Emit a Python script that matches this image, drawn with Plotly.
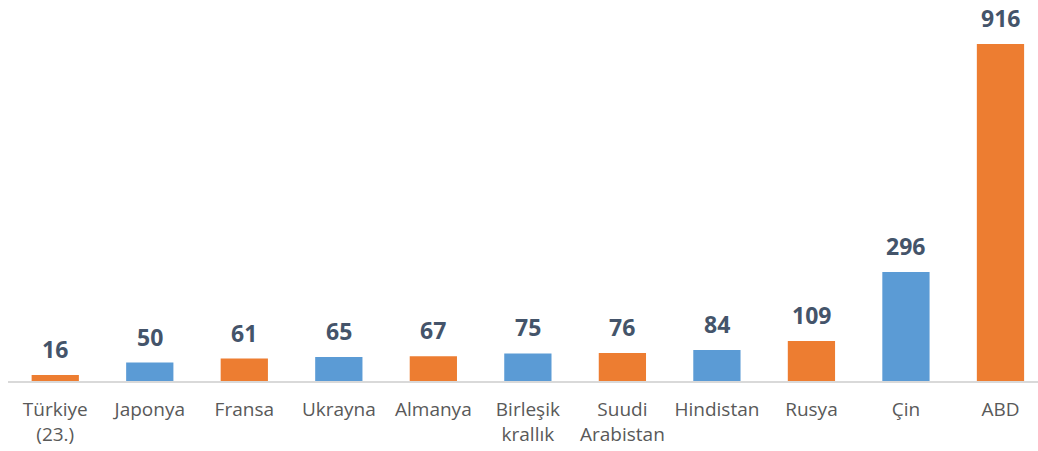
import plotly.graph_objects as go

categories = ["Türkiye<br>(23.)", "Japonya", "Fransa", "Ukrayna", "Almanya", "Birleşik<br>krallık",
              "Suudi<br>Arabistan", "Hindistan", "Rusya", "Çin", "ABD"]
values = [16, 50, 61, 65, 67, 75, 76, 84, 109, 296, 916]
ORANGE = "#ED7D31"
BLUE = "#5B9BD5"
colors = [ORANGE if i % 2 == 0 else BLUE for i in range(len(values))]
xs = list(range(len(values)))

fig = go.Figure()
fig.add_trace(go.Bar(
    x=xs, y=values, width=0.5,
    marker=dict(color=colors, line=dict(width=0)),
    cliponaxis=False, hoverinfo="skip",
))
for x, v in zip(xs, values):
    fig.add_annotation(
        x=x, y=v, text=str(v), showarrow=False, yanchor="bottom", yshift=8,
        font=dict(family="Open Sans", size=23, color="#44546A", weight="bold"),
    )
fig.update_layout(
    width=1038, height=451,
    margin=dict(l=8, r=0, t=20, b=70),
    paper_bgcolor="white", plot_bgcolor="white",
    showlegend=False,
    xaxis=dict(
        range=[-0.5, 10.397], tickmode="array", tickvals=xs,
        ticktext=categories, showgrid=False, zeroline=False,
        showline=True, linecolor="#D9D9D9", linewidth=2, ticks="",
        ticklabelstandoff=10,
        tickfont=dict(family="Open Sans", size=19, color="#595959"),
    ),
    yaxis=dict(range=[0, 981], visible=False, showgrid=False, zeroline=False),
)
fig.write_html(
    "out.html",
    config={"displayModeBar": False},
    post_script="document.body.style.margin='0';document.body.style.overflow='hidden';",
)
